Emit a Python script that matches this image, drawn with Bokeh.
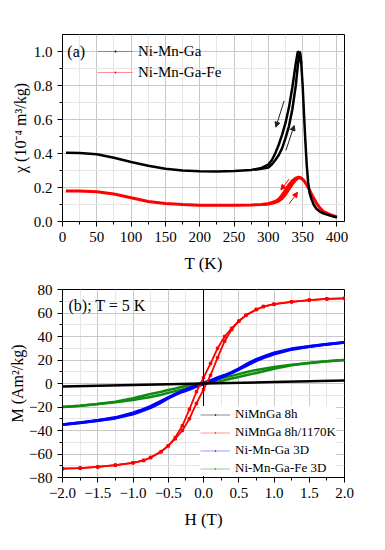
from bokeh.plotting import figure
from bokeh.models import (ColumnDataSource, FixedTicker, Legend, LegendItem, Label,
                          Span, Arrow, NormalHead, Range1d)
from bokeh.layouts import column
from bokeh.embed import file_html
from bokeh.resources import INLINE

FONT = "Liberation Serif"

# ---------------- Panel (a) data ----------------
nmg_cool_T = [5, 25, 50, 75, 100, 125, 150, 175, 200, 225, 250, 275, 290, 300, 305, 310, 315, 320, 325,
              330, 335, 340, 343, 346, 348, 350, 352, 354, 356, 358, 360, 363, 366, 370, 375, 380, 390, 400]
nmg_cool_chi = [0.405, 0.403, 0.395, 0.375, 0.35, 0.328, 0.31, 0.30, 0.295, 0.294, 0.297, 0.303, 0.315,
                0.335, 0.36, 0.40, 0.45, 0.51, 0.58, 0.67, 0.79, 0.93, 1.0, 0.99, 0.93, 0.80, 0.63, 0.47,
                0.33, 0.23, 0.17, 0.13, 0.10, 0.075, 0.058, 0.048, 0.035, 0.024]
nmg_heat_T = [280, 290, 300, 305, 310, 315, 320, 325, 330, 335, 340, 343, 346, 348]
nmg_heat_chi = [0.305, 0.31, 0.318, 0.335, 0.36, 0.39, 0.43, 0.49, 0.56, 0.66, 0.80, 0.92, 1.0, 0.93]

fe_cool_T = [5, 25, 50, 75, 100, 125, 150, 175, 200, 225, 250, 275, 290, 300, 310, 315, 320, 325, 330,
             335, 340, 344, 348, 352, 356, 360, 365, 370, 375, 380, 390, 400]
fe_cool_chi = [0.18, 0.179, 0.175, 0.162, 0.14, 0.118, 0.106, 0.10, 0.096, 0.095, 0.095, 0.097, 0.10,
               0.105, 0.118, 0.13, 0.155, 0.185, 0.215, 0.24, 0.255, 0.26, 0.255, 0.24, 0.215, 0.185,
               0.145, 0.11, 0.08, 0.06, 0.04, 0.027]
fe_heat_T = [290, 300, 310, 315, 320, 325, 330, 335, 340, 345, 350]
fe_heat_chi = [0.10, 0.103, 0.112, 0.12, 0.135, 0.16, 0.19, 0.22, 0.245, 0.26, 0.25]

# arrows (cooling: down-left, heating: up-right)
arr_k_x0 = [323, 325.6]
arr_k_y0 = [0.71, 0.418]
arr_k_x1 = [311, 337.7]
arr_k_y1 = [0.555, 0.565]
arr_r_x0 = [330.4, 330.4]
arr_r_y0 = [0.25, 0.104]
arr_r_x1 = [318.3, 342.6]
arr_r_y1 = [0.186, 0.172]

a_xticks = [0, 50, 100, 150, 200, 250, 300, 350, 400]
a_xminor = [25, 75, 125, 175, 225, 275, 325, 375]
a_yticks = [0.0, 0.2, 0.4, 0.6, 0.8, 1.0]
a_yminor = [0.1, 0.3, 0.5, 0.7, 0.9]
a_ylabels = ["0.0", "0.2", "0.4", "0.6", "0.8", "1.0"]

# ---------------- Panel (b) data ----------------
h8_H = [-2.0, -1.0, 0.0, 1.0, 2.0]
h8_M = [-2.5, -1.2, 0.0, 1.2, 2.5]

red_desc_H = [2.0, 1.75, 1.5, 1.25, 1.0, 0.85, 0.75, 0.6, 0.5, 0.4, 0.3, 0.2, 0.1, 0.0, -0.05, -0.1,
              -0.2, -0.3, -0.4, -0.5, -0.6, -0.75, -0.85, -1.0, -1.25, -1.5, -1.75, -2.0]
red_desc_M = [72.5, 72, 71, 69.5, 67.5, 65.5, 63, 58, 53, 47, 40, 30, 17, 5, -1, -7,
              -22, -36, -46, -53, -58, -63, -65.5, -67.5, -69.5, -71, -72, -72.5]
red_asc_H = [-2.0, -1.75, -1.5, -1.25, -1.0, -0.85, -0.75, -0.6, -0.5, -0.4, -0.3, -0.2, -0.1, 0.0, 0.05,
             0.1, 0.2, 0.3, 0.4, 0.5, 0.6, 0.75, 0.85, 1.0, 1.25, 1.5, 1.75, 2.0]
red_asc_M = [-72.5, -72, -71, -69.5, -67.5, -65.5, -63, -58, -53, -47, -40, -30, -17, -5, 1,
             7, 22, 36, 46, 53, 58, 63, 65.5, 67.5, 69.5, 71, 72, 72.5]

bl_asc_H = [-2.0, -1.75, -1.5, -1.25, -1.0, -0.9, -0.75, -0.6, -0.5, -0.4, -0.3, -0.2, -0.1, 0.0,
            0.1, 0.2, 0.3, 0.4, 0.5, 0.6, 0.75, 0.9, 1.0, 1.25, 1.5, 1.75, 2.0]
bl_asc_M = [-35, -33.3, -31.5, -29, -25, -23, -19.5, -15, -12, -9, -6.5, -4, -1.5, 0.5,
            2.5, 5, 7, 9.5, 12.5, 16, 20.5, 24, 26, 29.5, 31.5, 33.5, 35]
bl_desc_H = [2.0, 1.75, 1.5, 1.25, 1.0, 0.9, 0.75, 0.6, 0.5, 0.4, 0.3, 0.2, 0.1, 0.0,
             -0.1, -0.2, -0.3, -0.4, -0.5, -0.6, -0.75, -0.9, -1.0, -1.25, -1.5, -1.75, -2.0]
bl_desc_M = [35, 33.3, 31.5, 29, 25, 23, 19.5, 15, 12, 9, 6.5, 4, 1.5, -0.5,
             -2.5, -5, -7, -9.5, -12.5, -16, -20.5, -24, -26, -29.5, -31.5, -33.5, -35]

gr_asc_H = [-2.0, -1.75, -1.5, -1.25, -1.0, -0.9, -0.75, -0.6, -0.5, -0.4, -0.3, -0.2, -0.1, 0.0,
            0.1, 0.2, 0.3, 0.4, 0.5, 0.6, 0.75, 0.9, 1.0, 1.25, 1.5, 1.75, 2.0]
gr_asc_M = [-20, -19, -17.5, -16, -14, -13, -11.5, -9.5, -8, -6.5, -5, -3.5, -2, -0.5,
            0.6, 1.6, 2.8, 4.2, 5.5, 7, 9, 11, 12.5, 15.5, 17.5, 19, 20]
gr_desc_H = [2.0, 1.75, 1.5, 1.25, 1.0, 0.9, 0.75, 0.6, 0.5, 0.4, 0.3, 0.2, 0.1, 0.0,
             -0.1, -0.2, -0.3, -0.4, -0.5, -0.6, -0.75, -0.9, -1.0, -1.25, -1.5, -1.75, -2.0]
gr_desc_M = [20, 19, 17.5, 16, 14, 13, 11.5, 9.5, 8, 6.5, 5, 3.5, 2, 0.5,
             -0.6, -1.6, -2.8, -4.2, -5.5, -7, -9, -11, -12.5, -15.5, -17.5, -19, -20]

b_xticks = [-2.0, -1.5, -1.0, -0.5, 0.0, 0.5, 1.0, 1.5, 2.0]
b_xminor = [-1.75, -1.25, -0.75, -0.25, 0.25, 0.75, 1.25, 1.75]
b_xlabels = ["−2.0", "−1.5", "−1.0", "−0.5", "0.0", "0.5", "1.0", "1.5", "2.0"]
b_yticks = [-80, -60, -40, -20, 0, 20, 40, 60, 80]
b_yminor = [-70, -50, -30, -10, 10, 30, 50, 70]
b_ylabels = ["−80", "−60", "−40", "−20", "0", "20", "40", "60", "80"]


def style(p, xt, xm, yt, ym):
    p.xaxis.ticker = FixedTicker(ticks=xt, minor_ticks=xm)
    p.yaxis.ticker = FixedTicker(ticks=yt, minor_ticks=ym)
    p.xgrid.ticker = p.xaxis.ticker
    p.ygrid.ticker = p.yaxis.ticker
    for ax in (p.xaxis, p.yaxis):
        ax.major_tick_out = 5
        ax.major_tick_in = 0
        ax.minor_tick_out = 3
        ax.minor_tick_in = 0
        ax.axis_line_color = "black"
        ax.major_tick_line_color = "black"
        ax.minor_tick_line_color = "black"
        ax.major_label_text_font = FONT
        ax.major_label_text_font_size = "15px"
        ax.major_label_text_color = "black"
        ax.axis_label_text_font = FONT
        ax.axis_label_text_font_style = "normal"
        ax.axis_label_text_color = "black"
    p.xaxis.axis_label_text_font_size = "17px"
    p.yaxis.axis_label_text_font_size = "16px"
    p.xaxis.axis_label_standoff = 9
    for g in (p.xgrid, p.ygrid):
        g.grid_line_color = "#c8c8c8"
        g.grid_line_width = 1
        g.minor_grid_line_color = "#e6e6e6"
        g.minor_grid_line_width = 1
    p.outline_line_color = "black"
    p.outline_line_width = 1
    p.background_fill_color = "white"
    p.border_fill_color = "white"


NAN = float("nan")
dummy = dict(x=[NAN], y=[NAN])

# ---------------- Panel (a) ----------------
p1 = figure(width=377, height=278, output_backend="svg", toolbar_location=None,
            x_range=Range1d(0, 411), y_range=Range1d(0, 1.1),
            min_border_left=62, min_border_right=33, min_border_top=34, min_border_bottom=57)
style(p1, a_xticks, a_xminor, a_yticks, a_yminor)
p1.xaxis.axis_label = "T (K)"
p1.yaxis.axis_label = "χ (10⁻⁴ m³/kg)"
p1.yaxis.axis_label_standoff = 2
p1.yaxis.major_label_overrides = {t: s for t, s in zip(a_yticks, a_ylabels)}

p1.line(fe_cool_T, fe_cool_chi, line_color="red", line_width=3)
p1.line(fe_heat_T, fe_heat_chi, line_color="red", line_width=3)
p1.line(nmg_cool_T, nmg_cool_chi, line_color="black", line_width=2.5)
p1.line(nmg_heat_T, nmg_heat_chi, line_color="black", line_width=2.5)

for i in range(len(arr_k_x0)):
    p1.add_layout(Arrow(end=NormalHead(size=5, fill_color="#222222", line_color="#222222"),
                        x_start=arr_k_x0[i], y_start=arr_k_y0[i], x_end=arr_k_x1[i], y_end=arr_k_y1[i],
                        line_color="#222222", line_width=1))
for i in range(len(arr_r_x0)):
    p1.add_layout(Arrow(end=NormalHead(size=5, fill_color="red", line_color="red"),
                        x_start=arr_r_x0[i], y_start=arr_r_y0[i], x_end=arr_r_x1[i], y_end=arr_r_y1[i],
                        line_color="red", line_width=1))

p1.add_layout(Label(x=7, y=1.0, text="(a)", text_font=FONT, text_font_size="16px",
                    text_baseline="middle", text_color="black"))

lk = p1.line("x", "y", source=ColumnDataSource(dummy), line_color="#8a8a8a", line_width=1)
sk = p1.scatter("x", "y", source=ColumnDataSource(dummy), marker="dot", size=3, color="black")
lr = p1.line("x", "y", source=ColumnDataSource(dummy), line_color="#ff9090", line_width=1)
sr = p1.scatter("x", "y", source=ColumnDataSource(dummy), marker="dot", size=3, color="red")
leg1 = Legend(items=[LegendItem(label="Ni-Mn-Ga", renderers=[lk, sk]),
                     LegendItem(label="Ni-Mn-Ga-Fe", renderers=[lr, sr])],
              location=(35, 140), orientation="vertical",
              glyph_width=36, glyph_height=18, label_height=18, spacing=3, padding=0, margin=0,
              label_standoff=5, label_text_font=FONT, label_text_font_size="15px",
              label_text_color="black", border_line_color=None, background_fill_alpha=0)
p1.add_layout(leg1)

# ---------------- Panel (b) ----------------
p2 = figure(width=377, height=257, output_backend="svg", toolbar_location=None,
            x_range=Range1d(-2, 2), y_range=Range1d(-80, 80),
            min_border_left=62, min_border_right=33, min_border_top=11, min_border_bottom=58)
style(p2, b_xticks, b_xminor, b_yticks, b_yminor)
p2.xaxis.axis_label = "H (T)"
p2.yaxis.axis_label = "M (Am²/kg)"
p2.yaxis.axis_label_standoff = 0
p2.xaxis.major_label_overrides = {t: s for t, s in zip(b_xticks, b_xlabels)}
p2.yaxis.major_label_overrides = {t: s for t, s in zip(b_yticks, b_ylabels)}

p2.add_layout(Span(location=0, dimension="height", line_color="black", line_width=1))

GREEN = "#118a11"
p2.line(gr_asc_H, gr_asc_M, line_color=GREEN, line_width=2.5)
p2.line(gr_desc_H, gr_desc_M, line_color=GREEN, line_width=2.5)
p2.line(bl_asc_H, bl_asc_M, line_color="blue", line_width=3)
p2.line(bl_desc_H, bl_desc_M, line_color="blue", line_width=3)
p2.line(red_desc_H, red_desc_M, line_color="red", line_width=1.8)
p2.line(red_asc_H, red_asc_M, line_color="red", line_width=1.8)
p2.scatter(red_desc_H, red_desc_M, marker="square", size=2.5, color="red")
p2.scatter(red_asc_H, red_asc_M, marker="square", size=2.5, color="red")
p2.line(h8_H, h8_M, line_color="black", line_width=2.5)

p2.add_layout(Label(x=-1.915, y=66, text="(b); T = 5 K", text_font=FONT, text_font_size="16px",
                    text_baseline="middle", text_color="black"))

b_labels = ["NiMnGa 8h", "NiMnGa 8h/1170K", "Ni-Mn-Ga 3D", "Ni-Mn-Ga-Fe 3D"]
b_colors = ["black", "red", "blue", GREEN]
b_lines = ["#8a8a8a", "#ff9a9a", "#9a9aff", "#8fcf8f"]
items = []
for lab, c, lc in zip(b_labels, b_colors, b_lines):
    r1 = p2.line("x", "y", source=ColumnDataSource(dummy), line_color=lc, line_width=1)
    r2 = p2.scatter("x", "y", source=ColumnDataSource(dummy), marker="dot", size=3, color=c)
    items.append(LegendItem(label=lab, renderers=[r1, r2]))
leg2 = Legend(items=items, location=(138, 1), orientation="vertical",
              glyph_width=30, glyph_height=15, label_height=15, spacing=2, padding=3, margin=0,
              label_standoff=5, label_text_font=FONT, label_text_font_size="13px",
              label_text_color="black", border_line_color=None, background_fill_color="white",
              background_fill_alpha=1)
p2.add_layout(leg2)

layout = column(p1, p2, spacing=0)
open("out.html", "w").write(file_html(layout, INLINE))
